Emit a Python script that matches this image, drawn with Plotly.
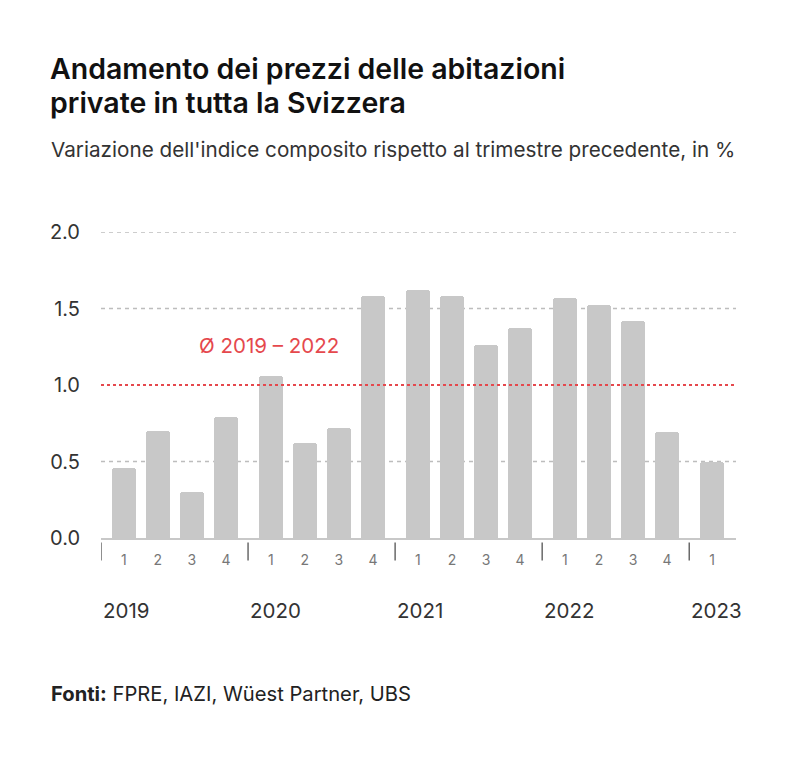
import plotly.graph_objects as go

# ---------------- data ----------------
years = ["2019", "2020", "2021", "2022", "2023"]
quarters = ["1", "2", "3", "4"]
values_2019 = [0.46, 0.70, 0.30, 0.79]
values_2020 = [1.06, 0.62, 0.72, 1.58]
values_2021 = [1.62, 1.58, 1.26, 1.37]
values_2022 = [1.57, 1.52, 1.42, 0.69]
values_2023 = [0.50]
average_2019_2022 = 1.0
y_tick_vals = [0.0, 0.5, 1.0, 1.5, 2.0]
y_tick_text = ["0.0", "0.5", "1.0", "1.5", "2.0"]

series = [values_2019, values_2020, values_2021, values_2022, values_2023]

# ---------------- layout helpers ----------------
W, H = 788, 761
L, R, T, B = 101, 52, 232, 222.5
PW, PH = W - L - R, H - T - B
YEAR_STEP = 4.32      # slots per year block (quarters + gap)
DIV_OFF = -0.67       # divider offset before first quarter
X_MAX = 17.985

def py(p):  # pixel y -> paper y
    return (H - B - p) / PH

def px(p):  # pixel x -> paper x
    return (p - L) / PW

xs, ys, qlabels = [], [], []
for yi, vals in enumerate(series):
    for qi, v in enumerate(vals):
        xs.append(yi * YEAR_STEP + qi)
        ys.append(v)
        qlabels.append(quarters[qi])

FONT = "Inter"
RED = "#e5484d"
GRAY_BAR = "#c8c8c8"

fig = go.Figure()
fig.add_trace(go.Bar(
    x=xs, y=ys, width=0.715,
    marker=dict(color=GRAY_BAR, cornerradius=3, line=dict(width=0)),
    hoverinfo="skip",
))

shapes = []
# dashed gridlines (except at average line)
for v in y_tick_vals:
    if v == 0 or v == average_2019_2022:
        continue
    shapes.append(dict(type="line", xref="paper", x0=0, x1=1, yref="y", y0=v, y1=v,
                       line=dict(color="#bdbdbd", width=1.3, dash="4px,4px"), layer="below"))
# average line
shapes.append(dict(type="line", xref="paper", x0=0, x1=1, yref="y",
                   y0=average_2019_2022, y1=average_2019_2022,
                   line=dict(color=RED, width=2, dash="3px,3px"), layer="above"))
# year dividers
for yi, yr in enumerate(years):
    xd = yi * YEAR_STEP + DIV_OFF
    shapes.append(dict(type="line", xref="x", x0=xd, x1=xd, yref="paper",
                       y0=py(543), y1=py(561), line=dict(color="#444", width=1.2)))

annotations = []
# year labels
for yi, yr in enumerate(years):
    xd = yi * YEAR_STEP + DIV_OFF
    annotations.append(dict(x=xd, xref="x", y=py(611), yref="paper", text=yr,
                            xanchor="left", yanchor="middle", showarrow=False,
                            font=dict(family=FONT, size=20.5, color="#333")))
# average label
annotations.append(dict(x=px(268.5), xref="paper", y=py(346), yref="paper",
                        text="Ø 2019 – 2022", showarrow=False, xanchor="center", yanchor="middle",
                        font=dict(family=FONT, size=20.5, color=RED)))
# title lines
annotations.append(dict(x=px(49), xref="paper", y=py(68.5), yref="paper",
                        text="Andamento dei prezzi delle abitazioni", showarrow=False,
                        xanchor="left", yanchor="middle", borderpad=0,
                        font=dict(family=FONT, size=28.5, color="#111", weight=600)))
annotations.append(dict(x=px(49), xref="paper", y=py(102.5), yref="paper",
                        text="private in tutta la Svizzera", showarrow=False,
                        xanchor="left", yanchor="middle", borderpad=0,
                        font=dict(family=FONT, size=28.5, color="#111", weight=600)))
# subtitle
annotations.append(dict(x=px(49), xref="paper", y=py(149), yref="paper",
                        text="Variazione dell'indice composito rispetto al trimestre precedente, in %",
                        showarrow=False, xanchor="left", yanchor="middle",
                        font=dict(family=FONT, size=20.7, color="#333")))
# source
annotations.append(dict(x=px(49), xref="paper", y=py(694), yref="paper",
                        text="<b>Fonti:</b> FPRE, IAZI, Wüest Partner, UBS",
                        showarrow=False, xanchor="left", yanchor="middle",
                        font=dict(family=FONT, size=20.2, color="#222")))

fig.update_layout(
    width=W, height=H,
    margin=dict(l=L, r=R, t=T, b=B, pad=0),
    paper_bgcolor="white", plot_bgcolor="white",
    showlegend=False,
    shapes=shapes, annotations=annotations,
    xaxis=dict(range=[DIV_OFF, X_MAX], tickmode="array", tickvals=xs, ticktext=qlabels,
               showgrid=False, zeroline=False, showline=True, linecolor=GRAY_BAR, linewidth=2,
               ticks="", ticklabelstandoff=8,
               tickfont=dict(family=FONT, size=14, color="#777"), fixedrange=True),
    yaxis=dict(range=[0, 2.0], tickmode="array", tickvals=y_tick_vals, ticktext=y_tick_text,
               showgrid=False, zeroline=False, showline=False, ticks="",
               ticklabelstandoff=20,
               tickfont=dict(family=FONT, size=20, color="#333"), fixedrange=True),
    bargap=0,
)

fig.write_html("out.html", config={"displayModeBar": False})
